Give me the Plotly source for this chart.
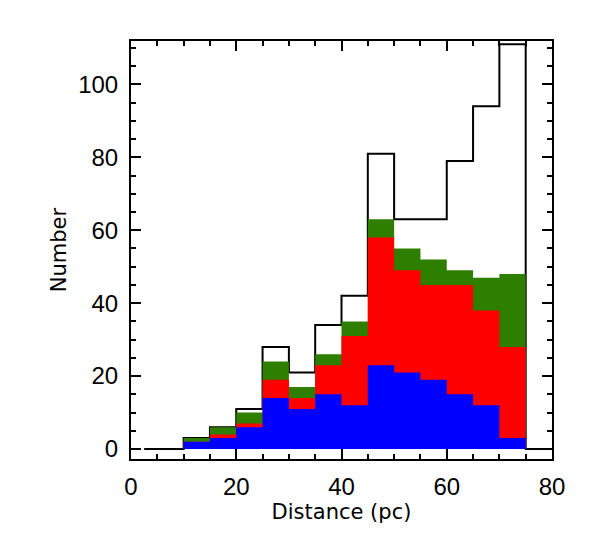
import numpy as np
import plotly.graph_objects as go

# bin edges of the distance histogram (pc)
bin_left = [10, 15, 20, 25, 30, 35, 40, 45, 50, 55, 60, 65, 70]
bin_width = 5

# counts per bin
total = [3, 6, 11, 28, 21, 34, 42, 81, 63, 63, 79, 94, 111]
blue_n = [2, 3, 6, 14, 11, 15, 12, 23, 21, 19, 15, 12, 3]
red_n = [0, 1, 1, 5, 3, 8, 19, 35, 28, 26, 30, 26, 25]
green_n = [1, 2, 3, 5, 3, 3, 4, 5, 6, 7, 4, 9, 20]

AXIS_FONT = dict(family="Liberation Sans, Arial, sans-serif", size=24, color="black")
TITLE_FONT = dict(family="DejaVu Sans, sans-serif", size=21, color="black")

edges = list(bin_left) + [bin_left[-1] + bin_width]


def step_xy(values):
    # x/y for an 'hv' step line over the bins
    return edges, list(values) + [values[-1]]


fig = go.Figure()

# black outline of the total histogram (drawn first, fills cover it)
out_x = [2.5] + edges + [90]
out_y = [0] + list(total) + [0, 0]
fig.add_trace(go.Scatter(x=out_x, y=out_y, mode="lines", line_shape="hv",
                         line=dict(color="black", width=2), hoverinfo="skip"))

cum_blue = np.array(blue_n)
cum_red = cum_blue + np.array(red_n)
cum_green = cum_red + np.array(green_n)

for vals, col in [(cum_green, "#2e7e00"), (cum_red, "#ff0000"), (cum_blue, "#0000ff")]:
    sx, sy = step_xy(vals.tolist())
    fig.add_trace(go.Scatter(x=sx, y=sy, mode="lines", line_shape="hv",
                             line=dict(width=0, color=col), fill="tozeroy",
                             fillcolor=col, hoverinfo="skip"))

axis_common = dict(
    showgrid=False, zeroline=False, showline=True, linecolor="black", linewidth=2,
    mirror="ticks", ticks="inside", ticklen=10, tickwidth=1.5, tickcolor="black",
    tickfont=AXIS_FONT,
)

fig.update_xaxes(range=[0, 80], dtick=20, tick0=0,
                 minor=dict(dtick=5, ticks="inside", ticklen=5, tickwidth=1.5, tickcolor="black"),
                 ticklabelstandoff=5,
                 title=dict(text="Distance (pc)", font=TITLE_FONT, standoff=4),
                 **axis_common)
fig.update_yaxes(range=[-2.74, 111.9], dtick=20, tick0=0,
                 minor=dict(dtick=5, ticks="inside", ticklen=5, tickwidth=1.5, tickcolor="black"),
                 ticklabelstandoff=6,
                 title=dict(text="Number", font=TITLE_FONT, standoff=6),
                 **axis_common)

# page body adds ~8px offset, so margins are shifted to compensate
fig.update_layout(
    width=591, height=543,
    margin=dict(l=123, r=47, t=33, b=92),
    plot_bgcolor="white", paper_bgcolor="white",
    showlegend=False,
)

fig.write_html("out.html")
